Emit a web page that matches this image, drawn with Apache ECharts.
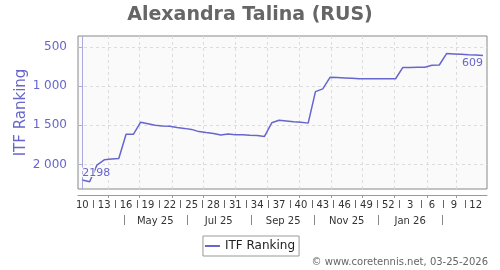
<!DOCTYPE html>
<html><head><meta charset="utf-8">
<script src="https://cdn.jsdelivr.net/npm/echarts@6/dist/echarts.min.js"></script>
<style>html,body{margin:0;padding:0;background:#fff}#c{width:500px;height:270px}</style>
</head><body><div id="c"></div>
<script>
// ---- data ----
const weeks = [10,11,12,13,14,15,16,17,18,19,20,21,22,23,24,25,26,27,28,29,30,31,32,33,34,35,36,37,38,39,40,41,42,43,44,45,46,47,48,49,50,51,52,1,2,3,4,5,6,7,8,9,10,11,12,13];
const ranks = [2198,2220,2007,1940,1930,1922,1615,1615,1460,1480,1500,1508,1512,1528,1539,1552,1580,1592,1603,1624,1611,1619,1621,1626,1630,1642,1468,1435,1445,1455,1462,1472,1070,1035,888,890,895,900,905,906,906,905,906,906,762,762,761,760,735,731,585,590,595,600,604,609];
const firstDate = '2025-03-07';
const monthStarts = ['2025-04-01','2025-05-01','2025-06-01','2025-07-01','2025-08-01','2025-09-01','2025-10-01','2025-11-01','2025-12-01','2026-01-01','2026-02-01','2026-03-01'];
const monthLabels = ['May 25','Jul 25','Sep 25','Nov 25','Jan 26'];
const monthLabelDates = ['2025-05-16','2025-07-16','2025-09-16','2025-11-16','2026-01-16'];
const monthSepDates = ['2025-04-16','2025-06-16','2025-08-16','2025-10-16','2025-12-16','2026-02-16'];
const yTicks = [500,1000,1500,2000];
const seriesName = 'ITF Ranking';
const titleText = 'Alexandra Talina (RUS)';
const footerText = '\u00a9 www.coretennis.net, 03-25-2026';

// ---- derived ----
const DAY = 86400000;
const toIdx = d => (Date.parse(d) - Date.parse(firstDate)) / (7 * DAY);
const weekLabelIdx = weeks.map((w, i) => i).filter(i => i % 3 === 0);
const weekSepIdx = weekLabelIdx.slice(0, -1).map(i => i + 1.5);
const monthGridIdx = monthStarts.map(toIdx);
const monthLabelIdx = monthLabelDates.map(toIdx);
const monthSepIdx = monthSepDates.map(toIdx);
const XMIN = -0.6, XMAX = ranks.length - 1 + 0.55;
const FONT = 'DejaVu Sans';
const C = '#6666cc';
const fmtThousands = v => String(v).replace(/\B(?=(\d{3})+(?!\d))/g, ' ');

const seriesData = ranks.map((r, i) => {
  const item = { value: [i, r] };
  if (i === 0) item.label = { show: true, position: 'top', align: 'left', distance: 1 };
  if (i === ranks.length - 1) item.label = { show: true, position: 'bottom', align: 'right', distance: 2 };
  return item;
});

const baseX = { type: 'value', min: XMIN, max: XMAX, position: 'bottom', gridIndex: 0 };
const chart = echarts.init(document.getElementById('c'), null, { renderer: 'canvas' });
chart.setOption({
  animation: false,
  title: { text: titleText, left: 'center', top: 1,
    textStyle: { fontFamily: FONT, fontSize: 19, fontWeight: 'bold', color: '#666' } },
  grid: { left: 78, right: 13, top: 36, bottom: 81, show: true,
    borderColor: '#888', borderWidth: 1, backgroundColor: '#fafafa', containLabel: false },
  legend: { data: [seriesName], left: 'center', top: 236, orient: 'horizontal',
    borderColor: '#999', borderWidth: 1, borderRadius: 0, padding: [4, 4, 4, 2],
    itemWidth: 15, itemHeight: 2, icon: 'rect', itemGap: 5,
    textStyle: { fontFamily: FONT, fontSize: 12, color: '#222' } },
  xAxis: [
    Object.assign({}, baseX, {
      offset: 6,
      axisLine: { show: true, lineStyle: { color: '#999', width: 1 } },
      axisTick: { show: true, customValues: monthGridIdx, length: 3, lineStyle: { color: '#999' } },
      axisLabel: { show: false },
      splitLine: { show: true, lineStyle: { color: '#dcdcdc', type: [3, 3], width: 1 } }
    }),
    Object.assign({}, baseX, {
      offset: 6,
      axisLine: { show: false }, axisTick: { show: false }, splitLine: { show: false },
      axisLabel: { show: true, customValues: weekLabelIdx, margin: 5,
        formatter: v => String(weeks[Math.round(v)]),
        fontFamily: FONT, fontSize: 10, color: '#333' }
    }),
    Object.assign({}, baseX, {
      offset: 11,
      axisLine: { show: false }, splitLine: { show: false }, axisLabel: { show: false },
      axisTick: { show: true, customValues: weekSepIdx, length: 8, lineStyle: { color: '#666' } }
    }),
    Object.assign({}, baseX, {
      offset: 26,
      axisLine: { show: false }, splitLine: { show: false },
      axisTick: { show: true, customValues: monthSepIdx, length: 10, lineStyle: { color: '#888' } },
      axisLabel: { show: true, customValues: monthLabelIdx, margin: 1,
        formatter: v => { let b = 0; monthLabelIdx.forEach((m, k) => { if (Math.abs(m - v) < Math.abs(monthLabelIdx[b] - v)) b = k; }); return monthLabels[b]; },
        fontFamily: FONT, fontSize: 10, color: '#333' }
    })
  ],
  yAxis: {
    type: 'value', inverse: true, min: 361, max: 2312, offset: 5,
    name: seriesName, nameLocation: 'middle', nameGap: 44, nameMoveOverlap: false,
    nameTextStyle: { fontFamily: FONT, fontSize: 15, color: C },
    axisLine: { show: true, lineStyle: { color: '#aaaadd' } },
    axisTick: { show: true, customValues: yTicks, length: 4, lineStyle: { color: '#aaaadd' } },
    axisLabel: { show: true, customValues: yTicks, margin: 6, formatter: fmtThousands,
      fontFamily: FONT, fontSize: 12, color: C },
    splitLine: { show: true, lineStyle: { color: '#dcdcdc', type: [3, 3], width: 1 } }
  },
  series: [{
    name: seriesName, type: 'line', xAxisIndex: 0, yAxisIndex: 0,
    data: seriesData, showSymbol: true, symbol: 'circle', symbolSize: 0,
    lineStyle: { color: C, width: 1.5 }, itemStyle: { color: C },
    label: { show: false, fontFamily: FONT, fontSize: 11, color: C,
      textBorderColor: '#fafafa', textBorderWidth: 2,
      formatter: p => String(p.value[1]) },
    emphasis: { disabled: true }
  }],
  graphic: [{ type: 'text', right: 12, bottom: 3,
    style: { text: footerText, fontFamily: FONT, fontSize: 10, fill: '#666' } }]
});
</script>
</body></html>
